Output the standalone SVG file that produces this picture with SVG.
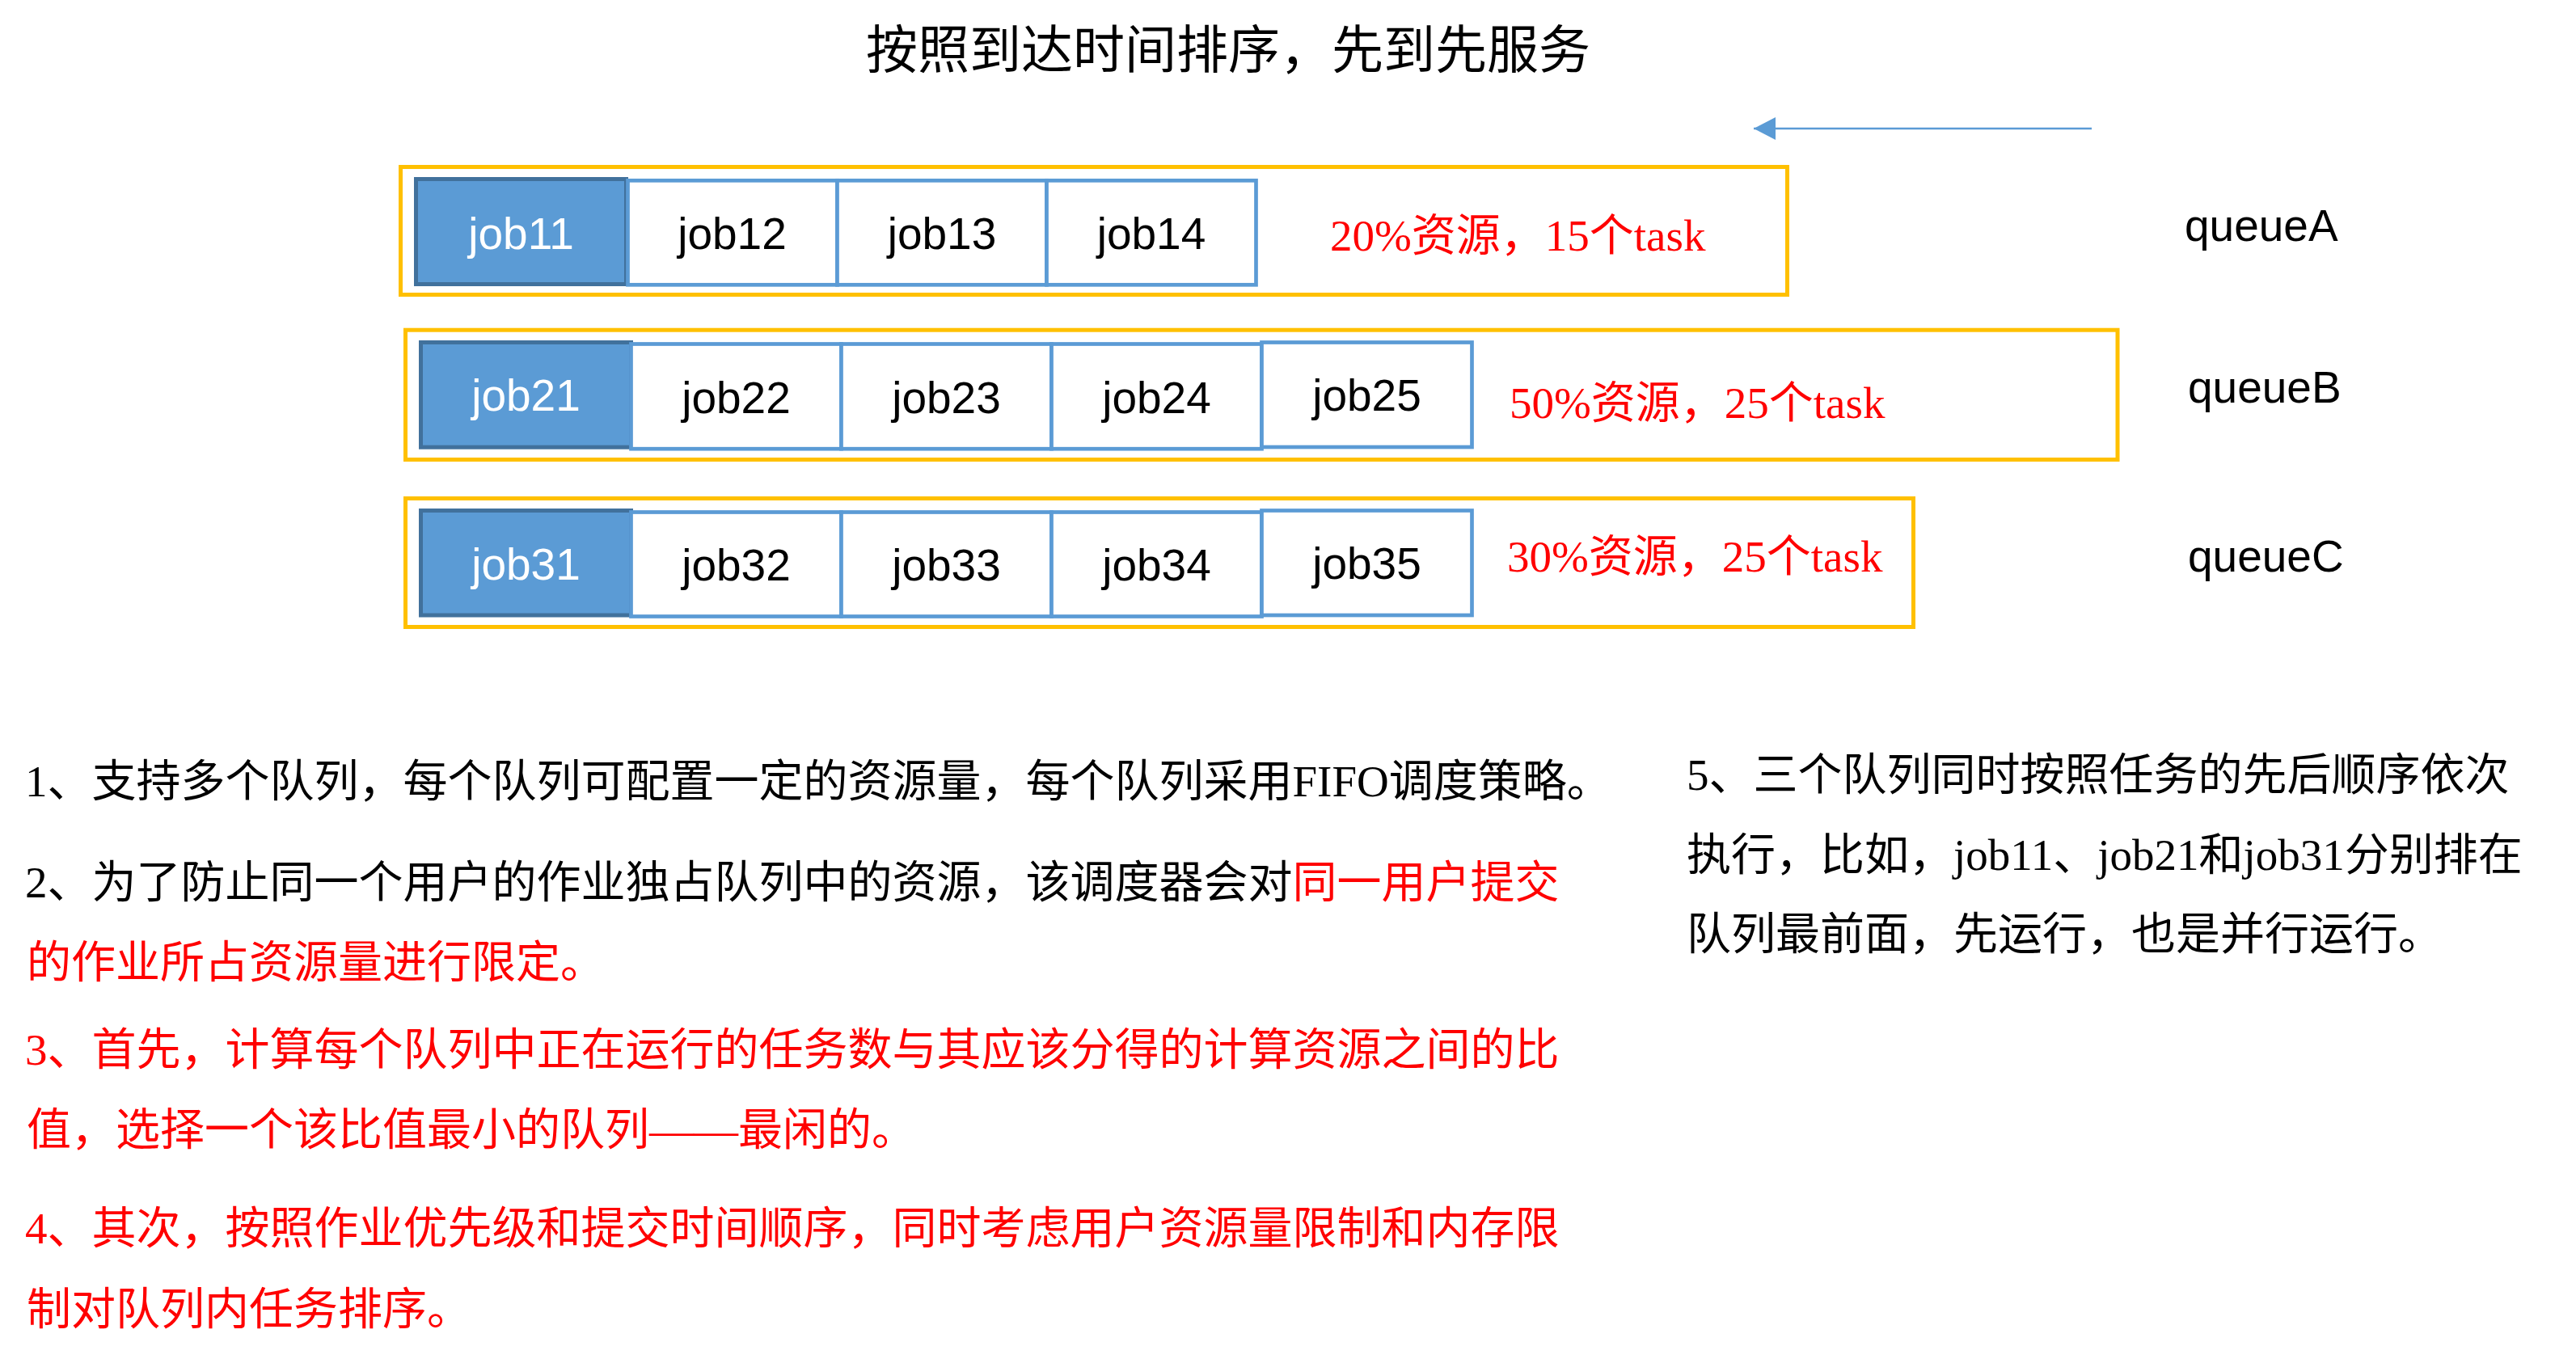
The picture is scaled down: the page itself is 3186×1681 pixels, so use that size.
<svg xmlns="http://www.w3.org/2000/svg" width="3186" height="1681" viewBox="0 0 3186 1681">
<style>
.queue{fill:none;stroke:#FFC000;stroke-width:5}
.job{fill:#FFFFFF;stroke:#5B9BD5;stroke-width:4.7}
.head{fill:#5B9BD5;stroke:#41719C;stroke-width:5}
.jt{font-family:"Liberation Sans",Arial,sans-serif;font-size:55px;text-anchor:middle;fill:#000000}
.ht{font-family:"Liberation Sans",Arial,sans-serif;font-size:55px;text-anchor:middle;fill:#FFFFFF}
.ql{font-family:"Liberation Sans",Arial,sans-serif;font-size:55px;fill:#000000}
.res{font-family:"Liberation Serif","Times New Roman","Noto Sans CJK SC",serif;font-size:55px;fill:#FF0000}
.para{font-family:"Liberation Serif","Times New Roman","Noto Sans CJK SC",serif;font-size:55px;fill:#000000}
.red{fill:#FF0000}
.title{font-family:"Noto Sans CJK SC",sans-serif;font-size:64px;fill:#000000}
.conn{stroke:#5B9BD5;stroke-width:2.5;fill:none}
</style>
<defs>
<marker id="arrow" markerUnits="userSpaceOnUse" markerWidth="28" markerHeight="30" refX="27" refY="14" orient="auto">
<path d="M0,0 L27,14 L0,28 Z" fill="#5B9BD5"/>
</marker>
</defs>
<rect width="3186" height="1681" fill="#FFFFFF"/>

<g id="title"><text class="title" x="1071" y="84">按照到达时间排序，先到先服务</text></g>

<g id="connectors">
<line class="conn" x1="2587" y1="159" x2="2169" y2="159" marker-end="url(#arrow)"/>
</g>

<g id="queueA">
<rect class="queue" x="495.5" y="206.5" width="1715" height="158"/>
<g id="job11"><rect class="head" x="514.5" y="221.5" width="260" height="130"/><text class="ht" x="644.5" y="308">job11</text></g>
<g id="job12"><rect class="job" x="776.5" y="223.3" width="259" height="129"/><text class="jt" x="905.5" y="308">job12</text></g>
<g id="job13"><rect class="job" x="1035.5" y="223.3" width="259" height="129"/><text class="jt" x="1165" y="308">job13</text></g>
<g id="job14"><rect class="job" x="1294.5" y="223.3" width="259" height="129"/><text class="jt" x="1424" y="308">job14</text></g>
<text class="res" x="1645" y="310">20%资源，15个task</text>
<text class="ql" x="2702" y="298">queueA</text>
</g>

<g id="queueB">
<rect class="queue" x="501.5" y="408.2" width="2117.5" height="160.3"/>
<g id="job21"><rect class="head" x="520.5" y="423.5" width="260" height="129.7"/><text class="ht" x="650.5" y="508">job21</text></g>
<g id="job22"><rect class="job" x="780.5" y="425.5" width="260" height="129.7"/><text class="jt" x="910.5" y="511">job22</text></g>
<g id="job23"><rect class="job" x="1040.5" y="425.5" width="260" height="129.7"/><text class="jt" x="1170.5" y="511">job23</text></g>
<g id="job24"><rect class="job" x="1300.5" y="425.5" width="260" height="129.7"/><text class="jt" x="1430.5" y="511">job24</text></g>
<g id="job25"><rect class="job" x="1560.5" y="423.5" width="260" height="129.5"/><text class="jt" x="1690.5" y="508">job25</text></g>
<text class="res" x="1867" y="517">50%资源，25个task</text>
<text class="ql" x="2706" y="498">queueB</text>
</g>

<g id="queueC">
<rect class="queue" x="501.5" y="616.5" width="1865" height="159"/>
<g id="job31"><rect class="head" x="520.5" y="631.5" width="260" height="129.5"/><text class="ht" x="650.5" y="717">job31</text></g>
<g id="job32"><rect class="job" x="780.5" y="633.5" width="260" height="129"/><text class="jt" x="910.5" y="718">job32</text></g>
<g id="job33"><rect class="job" x="1040.5" y="633.5" width="260" height="129"/><text class="jt" x="1170.5" y="718">job33</text></g>
<g id="job34"><rect class="job" x="1300.5" y="633.5" width="260" height="129"/><text class="jt" x="1430.5" y="718">job34</text></g>
<g id="job35"><rect class="job" x="1560.5" y="631.5" width="260" height="129.5"/><text class="jt" x="1690.5" y="716">job35</text></g>
<text class="res" x="1864" y="707">30%资源，25个task</text>
<text class="ql" x="2706" y="707">queueC</text>
</g>

<g id="notes-left">
<text class="para" x="31" y="985">1、支持多个队列，每个队列可配置一定的资源量，每个队列采用FIFO调度策略。</text>
<text class="para" x="31" y="1110">2、为了防止同一个用户的作业独占队列中的资源，该调度器会对<tspan class="red">同一用户提交</tspan></text>
<text class="para red" x="33" y="1209">的作业所占资源量进行限定。</text>
<text class="para red" x="31" y="1317">3、首先，计算每个队列中正在运行的任务数与其应该分得的计算资源之间的比</text>
<text class="para red" x="33" y="1416">值，选择一个该比值最小的队列——最闲的。</text>
<text class="para red" x="31" y="1538">4、其次，按照作业优先级和提交时间顺序，同时考虑用户资源量限制和内存限</text>
<text class="para red" x="33" y="1638">制对队列内任务排序。</text>
</g>

<g id="notes-right">
<text class="para" x="2086" y="977">5、三个队列同时按照任务的先后顺序依次</text>
<text class="para" x="2086" y="1076">执行，比如，job11、job21和job31分别排在</text>
<text class="para" x="2086" y="1174">队列最前面，先运行，也是并行运行。</text>
</g>
</svg>
